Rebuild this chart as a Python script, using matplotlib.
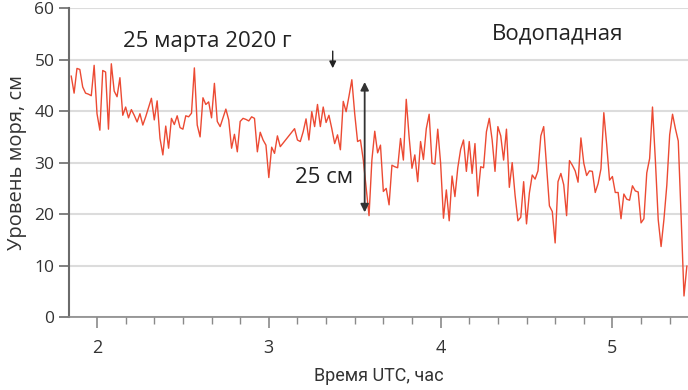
import numpy as np
import matplotlib.pyplot as plt
from matplotlib.ticker import MultipleLocator

# sea level, cm, one reading per minute starting 1:51 UTC
start_hour = 1 + 51 / 60
level = [46.8, 43.5, 48.3, 48.1, 44.7, 43.5, 43.3, 43.0, 48.9, 39.5,
         36.3, 47.9, 47.6, 36.5, 49.2, 43.9, 42.8, 46.5, 39.2, 40.8,
         38.7, 40.3, 39.2, 37.9, 39.5, 37.3, 38.9, 40.7, 42.5, 38.3,
         42.0, 34.7, 31.5, 37.1, 32.8, 38.6,
         37.4, 39.1, 36.8, 36.5, 39.1, 38.9, 39.6, 48.4, 37.3, 35.0,
         42.6, 41.3, 41.8, 38.7, 45.4, 38.0, 37.0, 38.7, 40.4, 38.3,
         32.8, 35.5, 32.1, 38.0, 38.6, 38.4, 38.1, 38.9, 38.6, 32.1,
         35.9, 34.4, 33.4, 27.1, 33.0,
         31.8, 35.2, 33.1, 33.8, 34.5, 35.2, 35.9, 36.6, 34.4, 34.1,
         36.0, 38.5, 34.4, 39.9, 37.0, 41.3, 37.0, 40.8, 37.8, 39.2,
         36.6, 33.7, 35.4,
         32.5, 41.9, 39.9, 42.9, 46.1, 39.5, 34.1, 34.4, 30.5, 25.0,
         19.7, 30.5, 36.1, 31.9, 33.4, 24.4, 25.0, 21.8, 29.5, 29.2,
         29.0, 34.7, 30.5, 42.3, 35.0, 28.9, 31.5, 26.3, 34.1, 30.6,
         36.6, 39.4, 29.9, 29.7, 36.5, 29.9, 19.2, 24.7, 18.7, 27.4,
         23.4, 29.0, 32.6, 34.4, 28.3, 34.1, 27.9, 33.7, 23.5, 29.2,
         29.0, 36.0,
         38.6, 34.4, 28.3, 37.0, 35.2, 30.5, 36.5, 25.2, 30.0, 23.7,
         18.7, 19.4, 26.3, 18.1, 24.1, 27.6, 26.8, 28.4, 35.2, 37.0,
         29.2, 21.6, 20.5, 14.4, 26.3, 27.9, 25.7, 19.7, 30.4, 29.5,
         28.4, 26.2, 34.8, 29.9, 27.5, 28.4, 28.3, 24.2, 25.9, 28.8,
         39.7, 33.5, 26.6, 27.3, 24.2, 24.2, 19.1, 23.9, 22.9, 22.7,
         25.5, 24.5, 24.3, 18.3, 19.1, 28.0, 30.8, 40.8, 30.5, 18.9,
         13.7, 19.0, 25.6, 35.4, 39.4, 36.6, 34.2, 19.5, 4.1, 9.9]
hours = start_hour + np.arange(len(level)) / 60

plt.rcParams['font.family'] = ['Open Sans', 'DejaVu Sans']
fig = plt.figure(figsize=(6.88, 3.9), dpi=100)
ax = fig.add_axes([0.1003, 0.187, 0.8997, 0.792])

ax.plot(hours, level, color='#ec4a33', lw=1.0)

ax.set_xlim(1.837, 5.44)
ax.set_ylim(0, 60)
ax.xaxis.set_major_locator(MultipleLocator(1))
ax.xaxis.set_minor_locator(MultipleLocator(1 / 6))
ax.yaxis.set_major_locator(MultipleLocator(10))
ax.grid(axis='y', color='#dcdcdc', lw=1.5)
ax.set_axisbelow(True)
for s in ['top', 'right']:
    ax.spines[s].set_visible(False)
ax.spines['left'].set_color('#6b6b6b')
ax.spines['left'].set_linewidth(1.5)
ax.spines['bottom'].set_color('#8a8a8a')
ax.spines['bottom'].set_linewidth(1.2)
ax.tick_params(axis='x', which='major', length=8, width=1.2, color='#8a8a8a',
               labelsize=13, labelcolor='#333333', pad=8)
ax.tick_params(axis='x', which='minor', length=5, width=1.0, color='#8a8a8a')
ax.tick_params(axis='y', length=7, width=1.2, color='#6b6b6b',
               labelsize=12.5, labelcolor='#333333')

ax.set_xlabel('Время UTC, час', fontsize=13, color='#333333',
              family=['Roboto', 'DejaVu Sans'], labelpad=7)
ax.set_ylabel('Уровень моря, см', fontsize=14.5, color='#333333', labelpad=5)

ax.text(2.15, 53.6, '25 марта 2020 г', fontsize=16, color='#222222', va='center')
ax.text(4.3, 55.0, 'Водопадная', fontsize=16, color='#222222', va='center')
ax.text(3.155, 27.2, '25 см', fontsize=16, color='#222222', va='center')

ax.annotate('', xy=(3.372, 47.8), xytext=(3.372, 52.2),
            arrowprops=dict(arrowstyle='-|>', color='#222222', lw=1, mutation_scale=10))
ax.annotate('', xy=(3.558, 19.8), xytext=(3.558, 46.2),
            arrowprops=dict(arrowstyle='<|-|>', color='#333333', lw=1.3, mutation_scale=12))

fig.savefig('out.png', dpi=100)
